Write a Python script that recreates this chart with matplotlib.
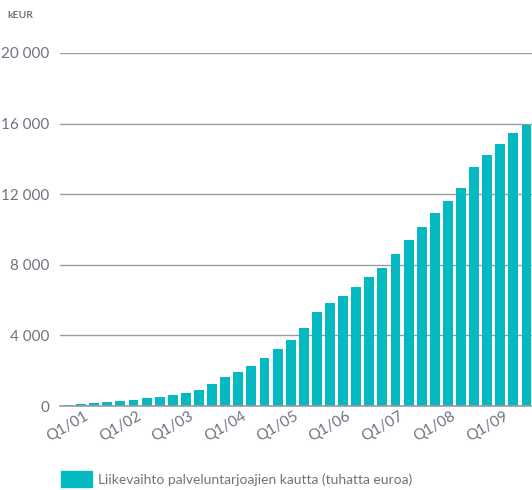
import numpy as np
import matplotlib
matplotlib.use("Agg")
import matplotlib.pyplot as plt
from matplotlib.patches import Patch

# quarterly revenue via service providers, kEUR (Q1/01 .. Q4/09)
values = [75, 130, 190, 245, 300, 357, 432, 526, 638, 751, 920, 1258,
          1652, 1934, 2272, 2723, 3230, 3736, 4415, 5321, 5830, 6226, 6736, 7302,
          7811, 8604, 9396, 10132, 10925, 11604, 12340, 13528, 14208, 14830, 15453, 15906]
tick_labels = ["Q1/01", "Q1/02", "Q1/03", "Q1/04", "Q1/05", "Q1/06", "Q1/07", "Q1/08", "Q1/09"]
y_ticks = [0, 4000, 8000, 12000, 16000, 20000]
legend_label = "Liikevaihto palveluntarjoajien kautta (tuhatta euroa)"

teal = "#04b9c1"
grey_text = "#6f7380"
grey_line = "#9b9ba6"

plt.rcParams['font.family'] = ['Lato', 'DejaVu Sans']

W, H = 532, 490
fig = plt.figure(figsize=(W / 100, H / 100), dpi=100)
ax = fig.add_axes([60 / W, (H - 406) / H, (532 - 60) / W, (406 - 53) / H])

x = np.arange(len(values))
ax.bar(x, values, width=0.76, color=teal, zorder=2)

ax.set_ylim(0, 20000)
ax.set_xlim(-0.61, 35.42)
ax.set_yticks(y_ticks)
ax.set_yticklabels([f"{v:,}".replace(",", " ") for v in y_ticks],
                   fontsize=11, color=grey_text)
ax.yaxis.grid(True, color=grey_line, linewidth=1.0, zorder=1)
ax.tick_params(axis='y', length=0, pad=8)

ax.set_xticks(x[::4])
ax.set_xticklabels(tick_labels, rotation=30, ha='center', fontsize=11, color=grey_text)
ax.tick_params(axis='x', length=0, pad=2)

for s in ['top', 'right', 'left']:
    ax.spines[s].set_visible(False)
ax.spines['bottom'].set_color(grey_line)
ax.spines['bottom'].set_linewidth(1.2)
ax.spines['bottom'].set_zorder(3)

fig.text(7 / W, 1 - 15 / H, "kEUR", fontsize=7.5, fontweight='bold', color=grey_text,
         va='center', ha='left')

fig.legend(handles=[Patch(color=teal, label=legend_label)], loc='lower left',
           bbox_to_anchor=(61 / W, 3 / H), frameon=False, fontsize=10,
           handlelength=2.25, handleheight=1.4, handletextpad=0.4,
           borderpad=0, borderaxespad=0, labelcolor=grey_text)

fig.savefig("out.png", dpi=100)
